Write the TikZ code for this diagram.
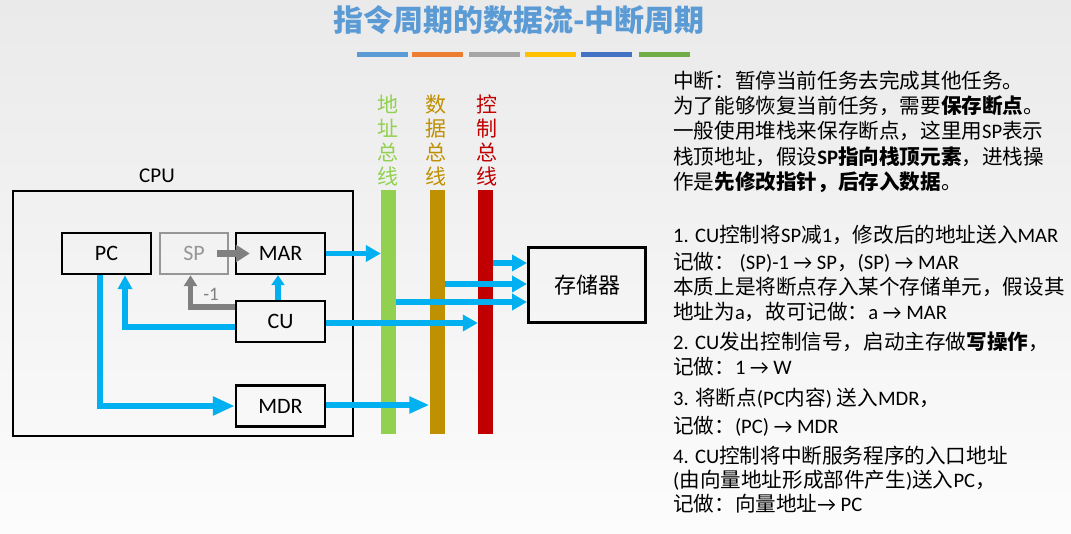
\documentclass[tikz,border=0pt]{standalone}
\usepackage{fontspec}
\setmainfont{Carlito}
\newfontfamily\cjk{Noto Sans CJK SC}
\newfontfamily\lat{Carlito}
\usetikzlibrary{arrows.meta,calc}
\definecolor{bgtop}{RGB}{234,234,234}
\definecolor{bgbot}{RGB}{252,252,252}
\definecolor{titleblue}{RGB}{91,155,213}
\definecolor{cblue}{RGB}{0,176,240}
\definecolor{cgray}{RGB}{128,128,128}
\definecolor{spgray}{RGB}{150,150,150}
\definecolor{busg}{RGB}{146,208,80}
\definecolor{busy}{RGB}{191,144,0}
\definecolor{busr}{RGB}{192,0,0}
\definecolor{b1}{RGB}{91,155,213}
\definecolor{b2}{RGB}{237,125,49}
\definecolor{b3}{RGB}{165,165,165}
\definecolor{b4}{RGB}{255,192,0}
\definecolor{b5}{RGB}{68,114,196}
\definecolor{b6}{RGB}{112,173,71}
\newcommand\En[1]{{\lat #1}}
\tikzset{
  x=1pt,y=-1pt,
  box/.style={draw=black, line width=2.5pt, inner sep=0pt, font=\lat\fontsize{22}{26}\selectfont},
  barr/.style={draw=cblue, line width=5.5pt, -{Triangle[length=15pt,width=16pt]}},
  garr/.style={draw=cgray, line width=5.5pt, -{Triangle[length=13pt,width=13pt]}},
  bus/.style={inner sep=0pt, minimum width=15pt, minimum height=244pt},
  buslbl/.style={align=center, inner sep=0pt, font=\cjk\fontsize{21}{24}\selectfont},
  txt/.style={anchor=base west, inner sep=0pt, font=\cjk\fontsize{20.6}{25}\selectfont},
}
\begin{document}
\begin{tikzpicture}
\shade[top color=bgtop, bottom color=bgbot] (0,0) rectangle (1071,534);
\useasboundingbox (0,0) rectangle (1071,534);

% title
\node[font=\cjk\bfseries\fontsize{30}{34}\selectfont, text=titleblue, inner sep=0pt] (title) at (519,20) {指令周期的数据流-中断周期};
\fill[b1] (357,52) rectangle (408,57);
\fill[b2] (412,52) rectangle (463,57);
\fill[b3] (469,52) rectangle (520,57);
\fill[b4] (525,52) rectangle (576,57);
\fill[b5] (581,52) rectangle (632,57);
\fill[b6] (639,52) rectangle (690,57);

% CPU
\node[box, minimum width=340pt, minimum height=245pt] (cpu) at (183,313.5) {};
\node[font=\lat\fontsize{21}{25}\selectfont, inner sep=0pt] (cpulbl) at (157,176) {CPU};
\node[box, minimum width=89pt, minimum height=41pt] (pc) at (106.5,253.5) {PC};
\node[box, draw=spgray, text=spgray, minimum width=68pt, minimum height=41pt] (sp) at (194,253.5) {SP};
\node[box, minimum width=89pt, minimum height=41pt] (mar) at (280.5,253.5) {MAR};
\node[box, minimum width=89pt, minimum height=41pt] (cu) at (280.5,321.5) {CU};
\node[box, minimum width=89pt, minimum height=41pt] (mdr) at (280.5,406) {MDR};

% memory
\node[box, line width=3pt, font=\cjk\fontsize{22}{26}\selectfont, minimum width=117pt, minimum height=75pt] (mem) at (587,285) {存储器};

% buses
\node[bus, fill=busg] (bus1) at (388.5,312) {};
\node[bus, fill=busy] (bus2) at (437,312) {};
\node[bus, fill=busr] (bus3) at (485.5,312) {};
\node[buslbl, text=busg] (lab1) at (388,140) {地\\址\\总\\线};
\node[buslbl, text=busy] (lab2) at (436,140) {数\\据\\总\\线};
\node[buslbl, text=busr] (lab3) at (487,140) {控\\制\\总\\线};

% internal arrows
\draw[garr, line width=6.5pt, -{Triangle[length=14pt,width=17pt]}] ([xshift=-12pt]sp.east) -- ([xshift=15pt]mar.west);
\draw[garr, -{Triangle[length=11pt,width=13pt]}] (cu.west |- 0,307) -| ([xshift=-3.5pt]sp.south);
\node[text=cgray, font=\lat\fontsize{19}{21}\selectfont, inner sep=0pt] (m1) at (211,294) {-1};
\draw[barr, line width=6.5pt, -{Triangle[length=10pt,width=13pt]}] ([xshift=-2.5pt]cu.north) -- ([xshift=-2.5pt]mar.south);
\draw[barr, -{Triangle[length=14pt,width=14pt]}] (cu.west |- 0,327) -| ([xshift=18.5pt]pc.south);
\draw[barr, -{Triangle[length=22pt,width=18pt]}] ([xshift=-6.5pt]pc.south) |- (mdr.west);

% to buses
\draw[barr] (mar.east) -- (mar.east -| bus1.west);
\draw[barr] (cu.east |- 0,323) -- (bus3.west |- 0,323);
\draw[barr, -{Triangle[length=20pt,width=16pt]}] (mdr.east |- 0,405) -- (bus2.west |- 0,405);

% buses to memory
\draw[barr] (bus3.east |- 0,263) -- (mem.west |- 0,263);
\draw[barr] (bus2.east |- 0,284) -- (mem.west |- 0,284);
\draw[barr] (bus1.east |- 0,302) -- (mem.west |- 0,302);

% text
\node[txt] (t1) at (673,89) {中断：暂停当前任务去完成其他任务。};
\node[txt] (t2) at (673,114) {为了能够恢复当前任务，需要\textbf{保存断点}。};
\node[txt] (t3) at (673,139) {一般使用堆栈来保存断点，这里用\En{SP}表示};
\node[txt] (t4) at (673,165) {栈顶地址，假设\textbf{\En{SP}指向栈顶元素}，进栈操};
\node[txt] (t5) at (673,190) {作是\textbf{先修改指针，后存入数据}。};

\node[txt] (t6) at (673,243) {\En{1. CU}控制将\En{SP}减\En{1}，修改后的地址送入\En{MAR}};
\node[txt] (t7) at (673,270) {记做：\En{ (SP)-1 → SP}，\En{(SP) → MAR}};
\node[txt] (t8) at (673,295) {本质上是将断点存入某个存储单元，假设其};
\node[txt] (t9) at (673,320) {地址为\En{a}，故可记做：\En{a → MAR}};
\node[txt] (t10) at (673,350) {\En{2. CU}发出控制信号，启动主存做\textbf{写操作}，};
\node[txt] (t11) at (673,375) {记做：\En{1 → W}};
\node[txt] (t12) at (673,406) {\En{3. }将断点\En{(PC}内容\En{) }送入\En{MDR}，};
\node[txt] (t13) at (673,433) {记做：\En{(PC) → MDR}};
\node[txt] (t14) at (673,463) {\En{4. CU}控制将中断服务程序的入口地址};
\node[txt] (t15) at (673,487.5) {\En{(}由向量地址形成部件产生\En{)}送入\En{PC}，};
\node[txt] (t16) at (673,511.5) {记做：向量地址\En{→ PC}};
\end{tikzpicture}
\end{document}
